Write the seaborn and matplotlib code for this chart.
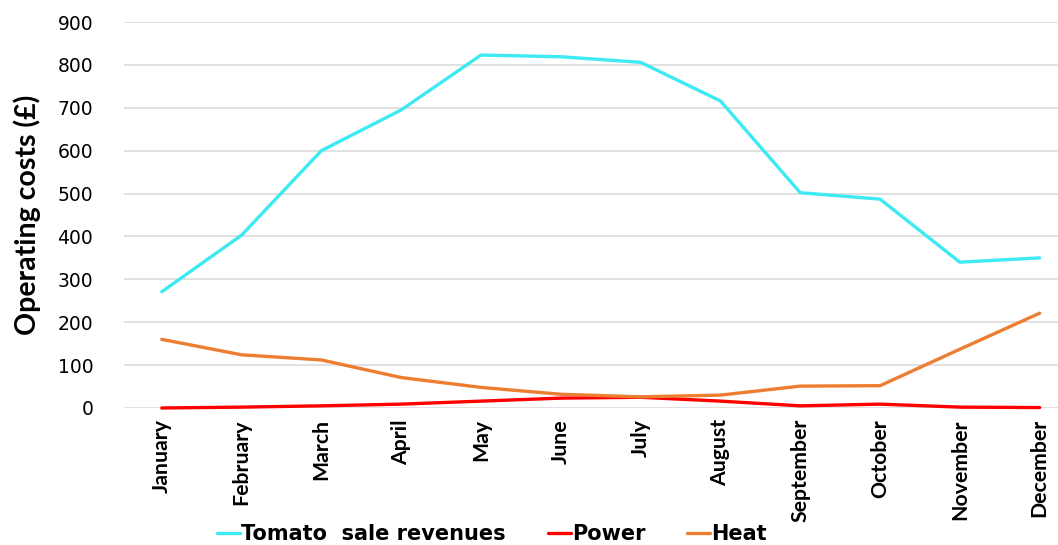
import matplotlib
matplotlib.use("Agg")
import matplotlib.pyplot as plt
import seaborn as sns
import pandas as pd
import numpy as np
from matplotlib.lines import Line2D

months = ["January", "February", "March", "April", "May", "June",
          "July", "August", "September", "October", "November", "December"]
tomato = [271, 403, 600, 695, 823, 819, 806, 716, 502, 487, 340, 350]
power = [0, 2, 5, 9, 16, 23, 25, 16, 5, 9, 2, 1]
heat = [160, 124, 112, 71, 48, 32, 26, 30, 51, 52, 137, 221]

series_names = ["Tomato  sale revenues", "Power", "Heat"]
colors = ["#3DE9F3", "#FF0000", "#ED7D31"]
y_ticks = [0, 100, 200, 300, 400, 500, 600, 700, 800, 900]

frames = []
for name, vals in zip(series_names, [tomato, power, heat]):
    frames.append(pd.DataFrame({"idx": np.arange(len(months)), "value": vals, "series": name}))
df = pd.concat(frames, ignore_index=True)

sns.set_theme(style="white")
plt.rcParams["font.family"] = ["Lato", "DejaVu Sans"]
plt.rcParams["text.color"] = "black"
plt.rcParams["axes.labelcolor"] = "black"
plt.rcParams["xtick.color"] = "black"
plt.rcParams["ytick.color"] = "black"

fig = plt.figure(figsize=(10.58, 5.45), dpi=100)
ax = fig.add_axes([0.117, 0.2514, 0.883, 0.7082])

sns.lineplot(data=df, x="idx", y="value", hue="series", hue_order=series_names,
             palette=colors, linewidth=2.4, ax=ax, legend=False, clip_on=False, zorder=3)

ax.set_xlim(-0.476, 11.23)
ax.set_ylim(0, 900)
ax.set_yticks(y_ticks)
ax.set_yticklabels([str(v) for v in y_ticks], fontsize=13.5, family="DejaVu Sans")
ax.set_xticks(np.arange(len(months)))
ax.set_xticklabels(months, rotation=90, fontsize=15.3, fontweight="bold", va="top")
ax.tick_params(axis="y", length=0, pad=22)
ax.tick_params(axis="x", length=0, pad=8)
ax.yaxis.grid(True, color="#D9D9D9", linewidth=1.1)
ax.set_axisbelow(True)
for s in ax.spines.values():
    s.set_visible(False)
ax.set_xlabel("")
ax.set_ylabel("Operating costs (£)", fontsize=20.5, fontweight="bold", labelpad=12)

handles = [Line2D([0], [0], color=c, linewidth=2.4) for c in colors]
fig.legend(handles, series_names, loc="center", bbox_to_anchor=(0.465, 0.02),
           ncol=3, frameon=False, handlelength=1.1, handletextpad=0.05,
           columnspacing=2.0, prop={"weight": "bold", "size": 15, "family": "DejaVu Sans"})

fig.savefig("out.png", dpi=100)
